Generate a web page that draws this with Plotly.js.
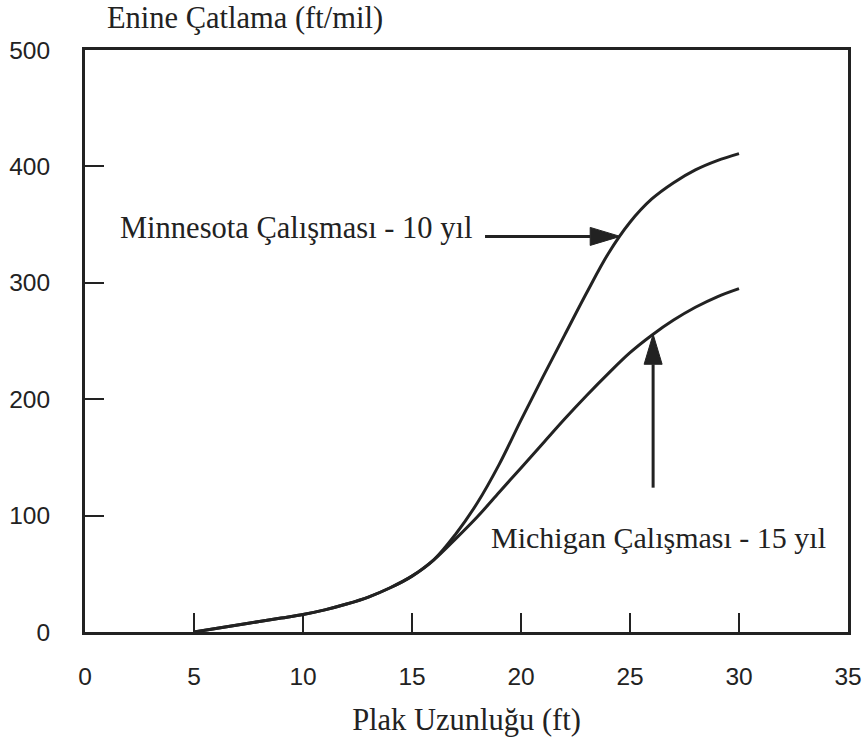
<!DOCTYPE html>
<html>
<head>
<meta charset="utf-8">
<script src="https://cdn.plot.ly/plotly-3.0.1.min.js"></script>
<style>
  html, body { margin: 0; padding: 0; background: #ffffff; }
  #chart { width: 867px; height: 738px; }
</style>
</head>
<body>
<div id="chart"></div>
<script>
// Slab length (ft)
const slabLength = [5, 6, 7, 8, 9, 10, 11, 12, 13, 14, 15, 16, 17, 18, 19, 20, 21, 22, 23, 24, 25, 26, 27, 28, 29, 30];

// Transverse cracking (ft/mile)
const minnesota10yr = [0, 3, 6, 9, 12, 15, 19, 24, 30, 38, 48, 62, 84, 111, 144, 182, 219, 255, 291, 325, 352, 372, 386, 397, 405, 411];
const michigan15yr  = [0, 3, 6, 9, 12, 15, 19, 24, 30, 38, 48, 62, 80, 99, 120, 141, 162, 183, 203, 222, 240, 255, 268, 279, 288, 295];

const xTicks = [0, 5, 10, 15, 20, 25, 30, 35];
const yTicks = [0, 100, 200, 300, 400, 500];

const labelMinnesota = 'Minnesota Çalışması - 10 yıl';
const labelMichigan  = 'Michigan Çalışması - 15 yıl';
const titleY = 'Enine Çatlama (ft/mil)';
const titleX = 'Plak Uzunluğu (ft)';

// Geometry of the plotting area
const W = 867, H = 738;
const M = { l: 85, r: 19, t: 50, b: 106 };
const xRange = [0, 35], yRange = [0, 500];
const pxPerX = (W - M.l - M.r) / (xRange[1] - xRange[0]);
const pxPerY = (H - M.t - M.b) / (yRange[1] - yRange[0]);

const ink = '#222222';
const serif = '"Liberation Serif", "Times New Roman", serif';
const sans = '"Liberation Sans", Arial, sans-serif';

// value of a series at x (linear between listed points)
function valueAt(xs, ys, x) {
  for (let i = 0; i < xs.length - 1; i++) {
    if (x >= xs[i] && x <= xs[i + 1]) {
      const t = (x - xs[i]) / (xs[i + 1] - xs[i]);
      return ys[i] + t * (ys[i + 1] - ys[i]);
    }
  }
  return ys[ys.length - 1];
}

// Arrow = shaft line + filled triangular head, tip on the curve.
// dir is a unit vector in screen pixels pointing toward the tip.
function arrowShapes(tipX, tipY, tailX, tailY, dir) {
  const headLen = 30, headHalf = 9;
  const toData = (px, py) => [px / pxPerX, -py / pxPerY];
  const [bx, by] = toData(-dir[0] * headLen, -dir[1] * headLen);
  const [nx, ny] = toData(-dir[1] * headHalf, dir[0] * headHalf);
  const baseX = tipX + bx, baseY = tipY + by;
  const p = (x, y) => x.toFixed(4) + ',' + y.toFixed(4);
  return [
    { type: 'line', xref: 'x', yref: 'y', x0: tailX, y0: tailY, x1: baseX, y1: baseY,
      line: { color: ink, width: 3 } },
    { type: 'path', xref: 'x', yref: 'y',
      path: 'M' + p(tipX, tipY) + ' L' + p(baseX + nx, baseY + ny) + ' L' + p(baseX - nx, baseY - ny) + ' Z',
      fillcolor: ink, line: { color: ink, width: 1 } }
  ];
}

const minTipX = 24.55;
const minTipY = valueAt(slabLength, minnesota10yr, minTipX);
const micTipX = 26.06;
const micTipY = valueAt(slabLength, michigan15yr, micTipX);

const shapes = []
  .concat(arrowShapes(minTipX, minTipY, 18.35, minTipY, [1, 0]))
  .concat(arrowShapes(micTipX, micTipY, micTipX, 124, [0, -1]));

const lineStyle = { color: ink, width: 3, shape: 'spline', smoothing: 1 };

const traces = [
  { x: slabLength, y: minnesota10yr, type: 'scatter', mode: 'lines', name: labelMinnesota,
    line: lineStyle, hoverinfo: 'x+y' },
  { x: slabLength, y: michigan15yr, type: 'scatter', mode: 'lines', name: labelMichigan,
    line: lineStyle, hoverinfo: 'x+y' }
];

const axisCommon = {
  showline: true, mirror: true, linecolor: ink, linewidth: 3,
  showgrid: false, zeroline: false,
  ticks: 'inside', ticklen: 19, tickwidth: 2, tickcolor: ink,
  tickfont: { family: sans, size: 24.5, color: ink },
  fixedrange: true
};

const layout = {
  width: W, height: H,
  margin: M,
  paper_bgcolor: '#ffffff', plot_bgcolor: '#ffffff',
  showlegend: false,
  title: {
    text: titleY,
    font: { family: serif, size: 30.5, color: ink },
    xref: 'paper', x: (245 - M.l) / (W - M.l - M.r), xanchor: 'center',
    yref: 'container', y: 1 - 17 / H, yanchor: 'middle'
  },
  xaxis: Object.assign({}, axisCommon, {
    range: xRange, tickmode: 'array', tickvals: xTicks,
    ticklabelstandoff: 21,
    title: { text: titleX, font: { family: serif, size: 30.5, color: ink }, standoff: 20 }
  }),
  yaxis: Object.assign({}, axisCommon, {
    range: yRange, tickmode: 'array', tickvals: yTicks,
    ticklabelstandoff: 27
  }),
  shapes: shapes,
  annotations: [
    { text: labelMinnesota, xref: 'x', yref: 'y', x: 1.5, y: 347,
      xanchor: 'left', yanchor: 'middle', showarrow: false,
      font: { family: serif, size: 30.5, color: ink } },
    { text: labelMichigan, xref: 'x', yref: 'y', x: 18.55, y: 81,
      xanchor: 'left', yanchor: 'middle', showarrow: false,
      font: { family: serif, size: 30, color: ink } }
  ]
};

Plotly.newPlot('chart', traces, layout, { displayModeBar: false, staticPlot: true });
</script>
</body>
</html>
